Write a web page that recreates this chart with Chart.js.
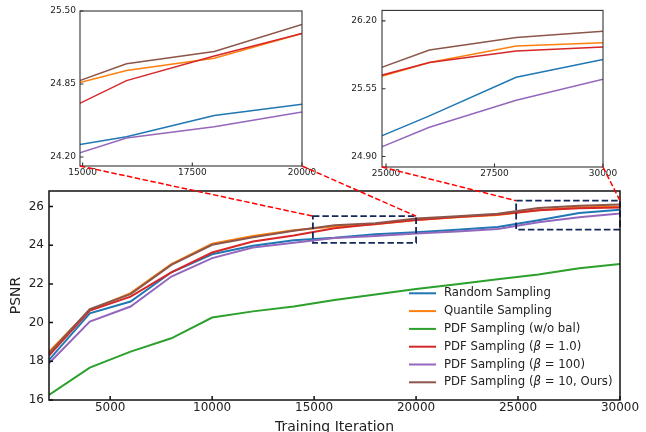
<!DOCTYPE html>
<html><head><meta charset="utf-8">
<script src="https://cdn.jsdelivr.net/npm/chart.js"></script>
<style>
html,body{margin:0;padding:0;background:#fff;}
#wrap{position:relative;width:646px;height:432px;overflow:hidden;background:#fff;}
#wrap canvas{position:absolute;left:0;top:0;}
</style></head><body>
<div id="wrap">
<canvas id="main" width="646" height="432"></canvas>
<canvas id="inset1" width="646" height="432"></canvas>
<canvas id="inset2" width="646" height="432"></canvas>
<canvas id="overlay" width="646" height="432"></canvas>
</div>
<script>
// ---------- data ----------
const iterations = [2000,4000,6000,8000,10000,12000,14000,16000,18000,20000,22000,24000,26000,28000,30000];
const randomSampling   = [18.07,20.48,21.09,22.60,23.53,23.97,24.25,24.38,24.57,24.67,24.80,24.94,25.29,25.66,25.83];
const quantileSampling = [18.50,20.65,21.52,23.02,24.07,24.48,24.77,24.97,25.08,25.30,25.44,25.56,25.80,25.96,25.99];
const pdfNoBal         = [16.26,17.67,18.50,19.19,20.26,20.58,20.83,21.17,21.45,21.73,21.98,22.24,22.48,22.81,23.03];
const pdfBeta1         = [18.30,20.62,21.34,22.60,23.62,24.19,24.50,24.88,25.10,25.30,25.45,25.58,25.80,25.91,25.95];
const pdfBeta100       = [17.90,20.05,20.83,22.38,23.33,23.88,24.12,24.37,24.47,24.60,24.71,24.84,25.18,25.44,25.64];
const pdfBeta10Ours    = [18.40,20.70,21.47,22.98,24.02,24.41,24.75,25.03,25.14,25.38,25.50,25.62,25.92,26.04,26.10];
const seriesLabels = ['Random Sampling','Quantile Sampling','PDF Sampling (w/o bal)','PDF Sampling (β = 1.0)','PDF Sampling (β = 100)','PDF Sampling (β = 10, Ours)'];
const seriesValues = [randomSampling, quantileSampling, pdfNoBal, pdfBeta1, pdfBeta100, pdfBeta10Ours];
const seriesColors = ['#1f77b4','#ff7f0e','#2ca02c','#d62728','#9467bd','#8c564b'];

const mainXTicks = [5000,10000,15000,20000,25000,30000];
const mainYTicks = [16,18,20,22,24,26];
const mainXRange = [2000,30000];
const mainYRange = [16,26.8];
const inset1XTicks = [15000,17500,20000];
const inset1YTicks = [24.20,24.85,25.50];
const inset1XRange = [14940,20000];
const inset1YRange = [24.12,25.50];
const inset2XTicks = [25000,27500,30000];
const inset2YTicks = [24.90,25.55,26.20];
const inset2XRange = [24908,30000];
const inset2YRange = [24.80,26.30];
const xTitle = 'Training Iteration';
const yTitle = 'PSNR';

// ---------- helpers ----------
Chart.defaults.font.family = '"DejaVu Sans", sans-serif';
Chart.defaults.color = '#222';
const W = 646, H = 432;

function buildDatasets(bw){
  return seriesLabels.map((lab,i)=>({
    label: lab,
    data: iterations.map((x,j)=>({x:x, y:seriesValues[i][j]})),
    borderColor: seriesColors[i],
    backgroundColor: seriesColors[i],
    borderWidth: bw,
    pointRadius: 0,
    tension: 0,
    fill: false,
    order: seriesLabels.length - i
  }));
}

function framePlugin(color, width, tickLen){
  return {
    id: 'frame',
    afterDraw(chart){
      const {ctx, chartArea:a, scales} = chart;
      ctx.save();
      ctx.strokeStyle = color;
      ctx.lineWidth = width;
      ctx.beginPath();
      scales.x.ticks.forEach(t=>{const p=scales.x.getPixelForValue(t.value); ctx.moveTo(p,a.bottom); ctx.lineTo(p,a.bottom-tickLen);});
      scales.y.ticks.forEach(t=>{const p=scales.y.getPixelForValue(t.value); ctx.moveTo(a.left,p); ctx.lineTo(a.left+tickLen,p);});
      ctx.stroke();
      ctx.strokeRect(a.left,a.top,a.right-a.left,a.bottom-a.top);
      ctx.restore();
    }
  };
}

function makeChart(id, cfg){
  const area = cfg.area;
  return new Chart(document.getElementById(id), {
    type: 'line',
    data: { datasets: buildDatasets(cfg.lineWidth) },
    options: {
      responsive: false, animation: false, events: [], devicePixelRatio: 1,
      layout: { padding: { left: 0, top: area.top, right: W - area.right, bottom: 0 } },
      plugins: { legend: {display:false}, tooltip: {enabled:false} },
      scales: {
        x: {
          type: 'linear', min: cfg.xRange[0], max: cfg.xRange[1],
          afterBuildTicks: s => { s.ticks = cfg.xTicks.map(v=>({value:v})); },
          afterFit: s => { s.height = H - area.bottom; },
          grid: {display:false, drawTicks:false}, border: {display:false},
          ticks: { font:{size:cfg.tickSize}, color:'#222', padding:cfg.xPad, autoSkip:false, maxRotation:0, minRotation:0,
                   callback: v => String(v) },
          title: cfg.xTitle ? { display:true, text:cfg.xTitle, font:{size:14}, color:'#222', padding:{top:0,bottom:-4} } : {display:false}
        },
        y: {
          type: 'linear', min: cfg.yRange[0], max: cfg.yRange[1],
          afterBuildTicks: s => { s.ticks = cfg.yTicks.map(v=>({value:v})); },
          afterFit: s => { s.width = area.left; },
          grid: {display:false, drawTicks:false}, border: {display:false},
          ticks: { font:{size:cfg.tickSize}, color:'#222', padding:cfg.yPad, autoSkip:false,
                   callback: v => cfg.yDigits ? Number(v).toFixed(cfg.yDigits) : String(v) },
          title: cfg.yTitle ? { display:true, text:cfg.yTitle, font:{size:14}, color:'#222', padding:{top:8,bottom:0} } : {display:false}
        }
      }
    },
    plugins: cfg.plugins
  });
}

const legendPlugin = {
  id: 'insideLegend',
  afterDraw(chart){
    const {ctx, chartArea:a} = chart;
    const ds = chart.data.datasets;
    const n = ds.length, rowH = 17.8;
    ctx.save();
    ctx.textBaseline = 'middle';
    ds.forEach((d,i)=>{
      const y = a.bottom - 17.7 - (n-1-i)*rowH;
      const x0 = a.right - 211;
      ctx.strokeStyle = d.borderColor; ctx.lineWidth = 2;
      ctx.beginPath(); ctx.moveTo(x0,y); ctx.lineTo(x0+27,y); ctx.stroke();
      let x = x0 + 35;
      ctx.fillStyle = '#222';
      const parts = d.label.split('β');
      parts.forEach((p,k)=>{
        if (k>0){ ctx.font='italic 11.7px "DejaVu Sans"'; ctx.fillText('β',x,y); x+=ctx.measureText('β').width; }
        ctx.font='11.7px "DejaVu Sans"'; ctx.fillText(p,x,y); x+=ctx.measureText(p).width;
      });
    });
    ctx.restore();
  }
};

const zoomBoxPlugin = {
  id: 'zoomBoxes',
  afterDatasetsDraw(chart){
    const {ctx, scales:{x,y}} = chart;
    ctx.save();
    ctx.strokeStyle = '#14285a'; ctx.lineWidth = 1.8; ctx.setLineDash([6.5,3]);
    [[inset1XRange,inset1YRange],[inset2XRange,inset2YRange]].forEach(([xr,yr])=>{
      const l=x.getPixelForValue(xr[0]), r=x.getPixelForValue(xr[1]);
      const t=y.getPixelForValue(yr[1]), b=y.getPixelForValue(yr[0]);
      ctx.strokeRect(l,t,r-l,b-t);
    });
    ctx.restore();
  }
};

const mainChart = makeChart('main', {
  area:{left:49, top:191, right:620, bottom:400}, lineWidth:2,
  xRange:mainXRange, yRange:mainYRange, xTicks:mainXTicks, yTicks:mainYTicks,
  tickSize:12, xPad:1, yPad:5, xTitle:xTitle, yTitle:yTitle,
  plugins:[zoomBoxPlugin, framePlugin('#111',1.5,4), legendPlugin]
});
const inset1 = makeChart('inset1', {
  area:{left:80, top:11, right:302, bottom:166}, lineWidth:1.5,
  xRange:inset1XRange, yRange:inset1YRange, xTicks:inset1XTicks, yTicks:inset1YTicks,
  tickSize:9, xPad:1, yPad:4, yDigits:2,
  plugins:[framePlugin('#333',1.1,3.5)]
});
const inset2 = makeChart('inset2', {
  area:{left:382, top:7, right:603, bottom:167}, lineWidth:1.5,
  xRange:inset2XRange, yRange:inset2YRange, xTicks:inset2XTicks, yTicks:inset2YTicks,
  tickSize:9, xPad:1, yPad:5, yDigits:2,
  plugins:[framePlugin('#333',1.1,3.5)]
});

// connector lines
(function(){
  const ctx = document.getElementById('overlay').getContext('2d');
  ctx.strokeStyle = '#ff0000'; ctx.lineWidth = 1.5; ctx.setLineDash([5.5,2.5]);
  const mx = mainChart.scales.x, my = mainChart.scales.y;
  [[inset1, inset1XRange, inset1YRange],[inset2, inset2XRange, inset2YRange]].forEach(([c,xr,yr])=>{
    const sx = c.scales.x, sy = c.scales.y;
    xr.forEach(v=>{
      ctx.beginPath();
      ctx.moveTo(sx.getPixelForValue(v), sy.getPixelForValue(yr[0]));
      ctx.lineTo(mx.getPixelForValue(v), my.getPixelForValue(yr[1]));
      ctx.stroke();
    });
  });
})();
</script>
</body></html>
